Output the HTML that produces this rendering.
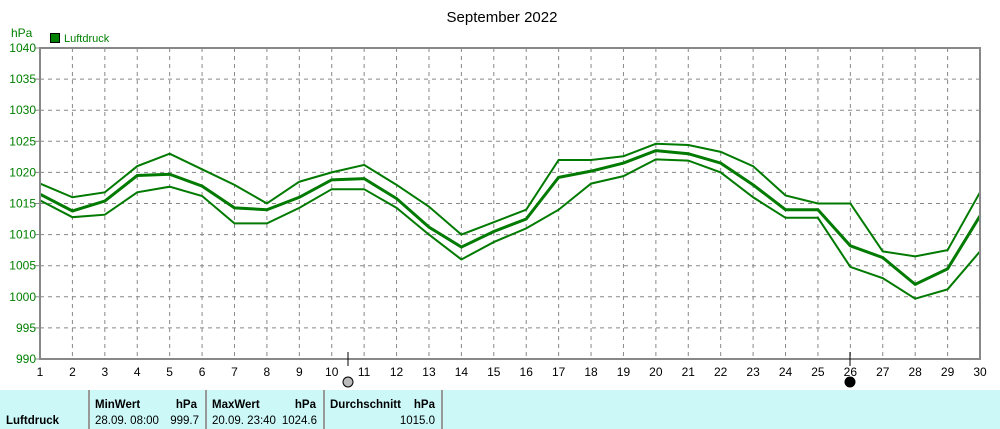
<!DOCTYPE html><html><head><style>body{margin:0;background:#fff;width:1000px;height:429px;overflow:hidden;font-family:"Liberation Sans",sans-serif}</style></head><body>
<svg width="1000" height="429" xmlns="http://www.w3.org/2000/svg" style="position:absolute;left:0;top:0">
<text x="502" y="22" font-size="15" text-anchor="middle" fill="#000">September 2022</text>
<text x="11" y="37" font-size="12" fill="#008000">hPa</text>
<rect x="50.5" y="33.5" width="9" height="9" fill="#008000" stroke="#000"/>
<text x="64" y="42" font-size="11" fill="#008000">Luftdruck</text>
<g stroke="#888" stroke-dasharray="4,4" stroke-width="1" id="g"></g>
<g font-size="12" fill="#008000" text-anchor="end" id="yl"></g>
<g font-size="12" fill="#000" text-anchor="middle" id="xl"></g>
<g transform="translate(40,48) scale(32.414,6.22)" fill="none" stroke="#007a00">
<polyline vector-effect="non-scaling-stroke" stroke-width="2" id="mx"/>
<polyline vector-effect="non-scaling-stroke" stroke-width="3" id="av"/>
<polyline vector-effect="non-scaling-stroke" stroke-width="2" id="mn"/>
</g>
<path d="M40 48V359H980V48Z" fill="none" stroke="#888" stroke-width="2"/>
<line x1="348" y1="352" x2="348" y2="366" stroke="#000"/>
<line x1="850" y1="352" x2="850" y2="366" stroke="#000"/>
<circle cx="348" cy="382" r="5" fill="#bbb" stroke="#000"/>
<circle cx="850" cy="382" r="5" fill="#000" stroke="#000"/>
<rect x="0" y="390" width="1000" height="39" fill="#ccf8f8"/>
<g stroke="#999" stroke-width="2"><line x1="89" y1="390" x2="89" y2="429"/><line x1="206" y1="390" x2="206" y2="429"/><line x1="324" y1="390" x2="324" y2="429"/><line x1="442" y1="390" x2="442" y2="429"/></g>
<g font-size="11.5" fill="#000">
<text x="6" y="424" font-weight="bold">Luftdruck</text>
<text x="95" y="408" font-weight="bold">MinWert</text><text x="197" y="408" font-weight="bold" text-anchor="end">hPa</text>
<text x="95" y="424">28.09.  08:00</text><text x="199" y="424" text-anchor="end">999.7</text>
<text x="212" y="408" font-weight="bold">MaxWert</text><text x="316" y="408" font-weight="bold" text-anchor="end">hPa</text>
<text x="212" y="424">20.09.  23:40</text><text x="317" y="424" text-anchor="end">1024.6</text>
<text x="330" y="408" font-weight="bold">Durchschnitt</text><text x="435" y="408" font-weight="bold" text-anchor="end">hPa</text>
<text x="435" y="424" text-anchor="end">1015.0</text>
</g>
</svg>
<script>
var ns="http://www.w3.org/2000/svg";
function el(p,t,a,txt){var e=document.createElementNS(ns,t);for(var k in a)e.setAttribute(k,a[k]);if(txt)e.textContent=txt;document.getElementById(p).appendChild(e);}
for(var d=1;d<=30;d++){var x=40+(d-1)*32.414;if(d>1&&d<30)el("g","line",{x1:x,y1:48,x2:x,y2:359});el("xl","text",{x:x,y:376},""+d);}
for(var p=990;p<=1040;p+=5){var y=48+(1040-p)*6.22;if(p>990&&p<1040)el("g","line",{x1:40,y1:y,x2:980,y2:y});el("yl","text",{x:36,y:y+4},""+p);el("g","line",{x1:35,y1:y,x2:40,y2:y,"stroke-dasharray":"none"});}
var mx=[1018.2,1016,1016.8,1021,1023,1020.5,1018,1015,1018.5,1020,1021.2,1018,1014.5,1010,1012,1014,1022,1022,1022.6,1024.6,1024.4,1023.3,1021,1016.3,1015,1015,1007.3,1006.5,1007.5,1016.8];
var av=[1016.5,1013.8,1015.4,1019.5,1019.7,1017.8,1014.3,1014,1016,1018.8,1019,1015.8,1011.2,1008,1010.5,1012.5,1019.2,1020.2,1021.5,1023.5,1023,1021.5,1018,1014,1014,1008.2,1006.3,1002,1004.5,1013];
var mn=[1015.5,1012.8,1013.2,1016.8,1017.7,1016.2,1011.8,1011.8,1014.3,1017.3,1017.3,1014.3,1010,1006,1008.8,1011,1014,1018.2,1019.4,1022.1,1021.9,1020,1016,1012.7,1012.7,1004.8,1003,999.7,1001.2,1007.3];
function pts(a){return a.map(function(v,i){return i+","+(1040-v)}).join(" ");}
document.getElementById("mx").setAttribute("points",pts(mx));
document.getElementById("av").setAttribute("points",pts(av));
document.getElementById("mn").setAttribute("points",pts(mn));
</script>
</body></html>
